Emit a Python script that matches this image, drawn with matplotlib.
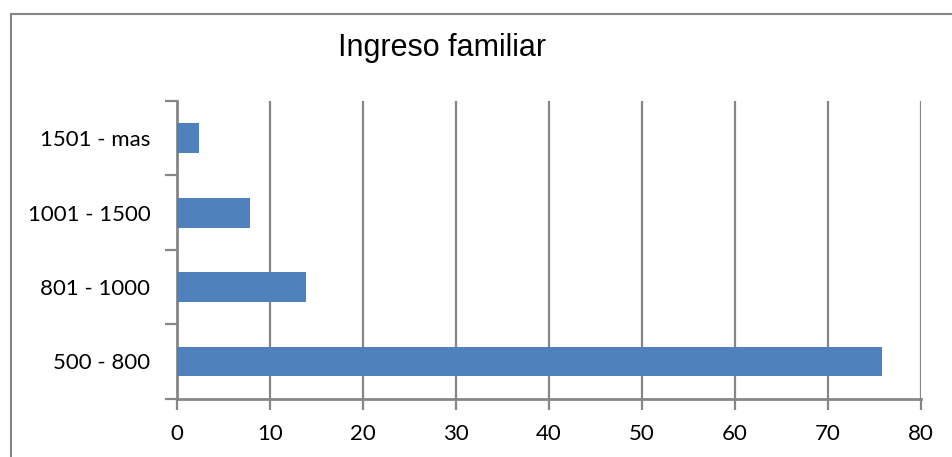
import matplotlib.pyplot as plt
from matplotlib.lines import Line2D
import numpy as np

# Distribución del ingreso familiar (%)
categorias = ["500 - 800", "801 - 1000", "1001 - 1500", "1501 - mas"]
valores = [75.8, 13.9, 7.9, 2.4]
ticks_x = [0, 10, 20, 30, 40, 50, 60, 70, 80]

gris = "#868686"
azul = "#4F81BD"

fig = plt.figure(figsize=(9.52, 4.57), dpi=100)
ax = fig.add_axes([0.1856, 0.1276, 0.9674 - 0.1856, 0.779 - 0.1276])

pos = np.arange(len(categorias))
ax.barh(pos, valores, height=0.4, color=azul, zorder=3)

ax.set_xlim(0, 80)
ax.set_ylim(-0.5, len(categorias) - 0.5)
ax.set_xticks(ticks_x)
ax.set_xticklabels([str(t) for t in ticks_x], family="Lato", fontsize=16)
ax.grid(axis="x", color=gris, linewidth=1.6, zorder=0)

# etiquetas centradas en cada barra, marcas en los límites de categoría
ax.set_yticks(pos)
ax.set_yticklabels(categorias, family="Lato", fontsize=16)
ax.set_yticks(np.arange(-0.5, len(categorias)), minor=True)
ax.tick_params(axis="y", which="major", length=0, pad=19)
ax.tick_params(axis="y", which="minor", length=9, width=1.6, color=gris, direction="out")
ax.tick_params(axis="x", length=8, width=1.6, color=gris, direction="out", pad=10)

for lado in ["top", "right"]:
    ax.spines[lado].set_visible(False)
for lado in ["left", "bottom"]:
    ax.spines[lado].set_color(gris)
    ax.spines[lado].set_linewidth(2)

fig.text(0.4643, 1 - 56 / 457, "Ingreso familiar", family="Liberation Sans", fontsize=22,
         ha="center", va="baseline")

# marco del gráfico
y0 = 1 - 14 / 457
x0 = 11 / 952
fig.add_artist(Line2D([x0, x0], [0, y0], color=gris, linewidth=1.5))
fig.add_artist(Line2D([x0, 1], [y0, y0], color=gris, linewidth=1.5))

fig.savefig("out.png", dpi=100)
